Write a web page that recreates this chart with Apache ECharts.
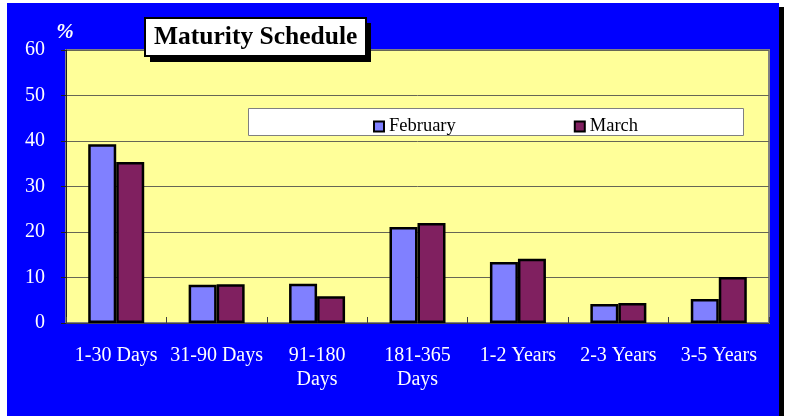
<!DOCTYPE html>
<html>
<head>
<meta charset="utf-8">
<script src="https://cdn.jsdelivr.net/npm/echarts@6/dist/echarts.min.js"></script>
<style>
  html, body { margin: 0; padding: 0; background: #fff; overflow: hidden; }
  #main { width: 788px; height: 430px; }
</style>
</head>
<body>
<div id="main"></div>
<script>
// data
var categories = ['1-30 Days', '31-90 Days', '91-180\nDays', '181-365\nDays', '1-2 Years', '2-3 Years', '3-5 Years'];
var february = [39.3, 8.4, 8.6, 21.1, 13.4, 4.2, 5.3];
var march = [35.4, 8.5, 5.9, 22.0, 14.1, 4.4, 10.1];
var yTicks = [0, 10, 20, 30, 40, 50, 60];

var serif = '"Liberation Serif", "Times New Roman", serif';

var myChart = echarts.init(document.getElementById('main'));

var option = {
    backgroundColor: '#ffffff',
    animation: false,
    title: {
        text: 'Maturity Schedule',
        left: 145,
        top: 18,
        padding: [5, 9, 5, 9],
        backgroundColor: '#ffffff',
        borderColor: '#000000',
        borderWidth: 2,
        z: 8,
        textStyle: {
            fontFamily: serif,
            fontSize: 25.5,
            fontWeight: 'bold',
            color: '#000000',
            lineHeight: 28
        }
    },
    graphic: [
        // blue panel
        {type: 'rect', z: -10, silent: true, shape: {x: 7, y: 3, width: 772, height: 440}, style: {fill: '#0000ff'}},
        // right shadow of panel
        {type: 'rect', z: -10, silent: true, shape: {x: 779, y: 7, width: 5, height: 440}, style: {fill: '#000000'}},
        // title shadow
        {type: 'rect', z: 7, silent: true, shape: {x: 150, y: 23, width: 221, height: 39}, style: {fill: '#000000'}},
        // legend box
        {type: 'rect', z: 3, silent: true, shape: {x: 248.5, y: 108.5, width: 495, height: 27}, style: {fill: '#ffffff', stroke: '#808080', lineWidth: 1}}
    ],
    legend: {
        left: 368,
        top: 112,
        itemWidth: 10,
        itemHeight: 10,
        itemGap: 118,
        icon: 'rect',
        z: 5,
        textStyle: {fontFamily: serif, fontSize: 18.5, color: '#000000'},
        itemStyle: {borderColor: '#000000', borderWidth: 2},
        data: ['February', 'March']
    },
    grid: {
        left: 66,
        width: 703,
        top: 50,
        height: 273,
        show: true,
        backgroundColor: '#ffff99',
        borderColor: '#808080',
        borderWidth: 2
    },
    xAxis: {
        type: 'category',
        data: categories,
        axisLine: {lineStyle: {color: '#404040', width: 1}},
        axisTick: {show: true, inside: true, length: 6, lineStyle: {color: '#404040'}},
        axisLabel: {
            color: '#ffffff',
            fontFamily: serif,
            fontSize: 20,
            lineHeight: 24,
            margin: 21,
            interval: 0
        }
    },
    yAxis: {
        type: 'value',
        min: yTicks[0],
        max: yTicks[yTicks.length - 1],
        interval: 10,
        name: '%',
        nameGap: 7,
        nameTextStyle: {
            color: '#ffffff',
            fontFamily: serif,
            fontSize: 21,
            fontStyle: 'italic',
            fontWeight: 'bold',
            align: 'center',
            padding: [0, 0, 0, -2]
        },
        axisLine: {show: true, lineStyle: {color: '#202020', width: 1}},
        axisTick: {show: true, length: 5, lineStyle: {color: '#202020'}},
        axisLabel: {
            color: '#ffffff',
            fontFamily: serif,
            fontSize: 20,
            margin: 21
        },
        splitLine: {show: true, lineStyle: {color: '#666655', width: 1}}
    },
    series: [
        {
            name: 'February',
            type: 'bar',
            data: february,
            barWidth: 28,
            barGap: '0%',
            itemStyle: {color: '#8080ff', borderColor: '#000000', borderWidth: 2.5}
        },
        {
            name: 'March',
            type: 'bar',
            data: march,
            barWidth: 28,
            itemStyle: {color: '#802060', borderColor: '#000000', borderWidth: 2.5}
        }
    ]
};

myChart.setOption(option);
</script>
</body>
</html>
